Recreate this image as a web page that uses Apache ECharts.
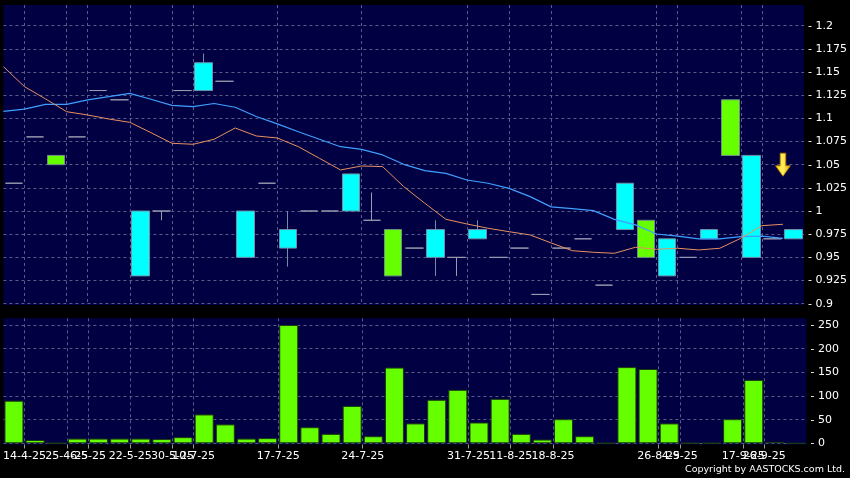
<!DOCTYPE html>
<html>
<head>
<meta charset="utf-8">
<script src="https://cdn.jsdelivr.net/npm/echarts@6/dist/echarts.min.js"></script>
<style>
html,body{margin:0;padding:0;background:#000;}
#c{width:850px;height:478px;}
</style>
</head>
<body>
<div id="c"></div>
<script>
// ---- data ----
const openP  = [1.03,1.08,1.06,1.08,1.13,1.12,0.93,1.00,1.13,1.13,1.14,0.95,1.03,0.96,1.00,1.00,1.00,0.99,0.98,0.96,0.95,0.95,0.97,0.95,0.96,0.91,0.96,0.97,0.92,0.98,0.99,0.93,0.95,0.97,1.12,0.95,0.97,0.97];
const closeP = [1.03,1.08,1.05,1.08,1.13,1.12,1.00,1.00,1.13,1.16,1.14,1.00,1.03,0.98,1.00,1.00,1.04,0.99,0.93,0.96,0.98,0.95,0.98,0.95,0.96,0.91,0.96,0.97,0.92,1.03,0.95,0.97,0.95,0.98,1.06,1.06,0.97,0.98];
const lowP   = [1.03,1.08,1.05,1.08,1.13,1.12,0.93,0.99,1.13,1.13,1.14,0.95,1.03,0.94,1.00,1.00,1.00,0.99,0.93,0.96,0.93,0.93,0.97,0.95,0.96,0.91,0.96,0.97,0.92,0.98,0.95,0.93,0.95,0.97,1.06,0.95,0.97,0.97];
const highP  = [1.03,1.08,1.06,1.08,1.13,1.12,1.00,1.00,1.13,1.17,1.14,1.00,1.03,1.00,1.00,1.00,1.04,1.02,0.98,0.96,0.99,0.95,0.99,0.95,0.96,0.91,0.96,0.97,0.92,1.03,0.99,0.97,0.95,0.98,1.12,1.06,0.97,0.98];
const volume = [90,7,0.5,10,10,10,10,9,13,61,40,10,11,250,34,20,79,15,160,42,92,113,44,94,20,8,51,15,0.5,161,157,42,0.5,0.5,51,134,3,0];
const maBlue = [1.1076,1.110,1.115,1.115,1.120,1.1234,1.127,1.1206,1.114,1.1126,1.116,1.112,1.102,1.094,1.0856,1.0774,1.0694,1.0666,1.0605,1.0504,1.0436,1.0407,1.0335,1.030,1.0245,1.0155,1.0045,1.0026,1.0004,0.991,0.985,0.9752,0.973,0.970,0.970,0.9723,0.9730,0.9705];
const maOrange = [1.1558,1.1342,1.121,1.1072,1.1036,1.0993,1.0957,1.0846,1.0731,1.072,1.0774,1.0896,1.081,1.0788,1.0694,1.0569,1.0443,1.0486,1.0479,1.0263,1.0084,0.9911,0.986,0.9814,0.9777,0.9742,0.9655,0.9572,0.9555,0.9544,0.9609,0.9587,0.9598,0.958,0.9598,0.9706,0.9842,0.9857];
const dateTickPos = [1,3,4,6,8,9,13,17,22,24,26,31,32,35,36];
const dateTickLabels = ['14-4-25','25-4-25','6-5-25','22-5-25','30-5-25','10-7-25','17-7-25','24-7-25','31-7-25','11-8-25','18-8-25','26-8-25','4-9-25','17-9-25','26-9-25'];
const priceTicks = [0.9,0.925,0.95,0.975,1,1.025,1.05,1.075,1.1,1.125,1.15,1.175,1.2];
const volumeTicks = [0,50,100,150,200,250];
const arrowMark = [37, 1.05];

// ---- build chart ----
const n = openP.length;
const cats = openP.map((_, i) => String(i));
const candles = openP.map((o, i) => [o, closeP[i], lowP[i], highP[i]]);
const blueLine = maBlue.map((v, i) => [i, v]);
const orangeLine = maOrange.map((v, i) => [i, v]);

const GRID_LINE = {show: true, lineStyle: {color: '#5a5a88', type: [3, 3], width: 1}};
const FONT = {color: '#ffffff', fontFamily: 'DejaVu Sans', fontSize: 11};
const labelMap = {};
dateTickPos.forEach((p, i) => labelMap[p] = dateTickLabels[i]);
// split date labels into two non-overlapping layers so none get hidden
const layerA = [], layerB = [];
dateTickPos.forEach(p => {
  const lastA = layerA[layerA.length - 1];
  if (lastA === undefined || p - lastA >= 3) layerA.push(p); else layerB.push(p);
});

function dateAxis(values, withLines) {
  return {type: 'value', gridIndex: 1, min: 0, max: n, position: 'bottom',
    axisLine: {show: false},
    axisTick: {show: withLines, length: 4, lineStyle: {color: '#9a9a9a'}, customValues: withLines ? dateTickPos : values},
    axisLabel: Object.assign({customValues: values, margin: 6, hideOverlap: false, showMinLabel: true, showMaxLabel: true,
      formatter: v => labelMap[Math.round(v)] || ''}, FONT),
    splitLine: withLines ? GRID_LINE : {show: false}};
}

const chart = echarts.init(document.getElementById('c'), null, {renderer: 'canvas'});
chart.setOption({
  backgroundColor: '#000000',
  animation: false,
  graphic: [
    {type: 'text', right: 5, top: 465, style: {text: 'Copyright by AASTOCKS.com Ltd.', fill: '#ffffff', font: '9.5px "DejaVu Sans"'}}
  ],
  grid: [
    {left: 3.4, right: 43.4, top: 5, height: 300, show: true, backgroundColor: '#000042', borderWidth: 0},
    {left: 3.4, right: 43.4, top: 318.3, height: 126.2, show: true, backgroundColor: '#000042', borderWidth: 0}
  ],
  xAxis: [
    {type: 'category', gridIndex: 0, data: cats, boundaryGap: true, show: false},
    {type: 'value', gridIndex: 0, min: 0, max: n, position: 'bottom',
      axisLine: {show: false}, axisLabel: {show: false},
      axisTick: {show: false, customValues: dateTickPos},
      splitLine: GRID_LINE},
    {type: 'category', gridIndex: 1, data: cats, boundaryGap: true, show: false},
    dateAxis(layerA, true),
    dateAxis(layerB, false)
  ],
  yAxis: [
    {type: 'value', gridIndex: 0, position: 'right', min: 0.8986, max: 1.2223, scale: true,
      axisLine: {show: false},
      axisTick: {show: false, customValues: priceTicks},
      axisLabel: Object.assign({customValues: priceTicks, margin: 4, hideOverlap: false, formatter: v => '- ' + Number(v.toFixed(3))}, FONT),
      splitLine: GRID_LINE},
    {type: 'value', gridIndex: 1, position: 'right', min: -2.5, max: 264.1,
      axisLine: {show: false},
      axisTick: {show: false, customValues: volumeTicks},
      axisLabel: Object.assign({customValues: volumeTicks, margin: 4, hideOverlap: false, formatter: v => '- ' + Math.round(v)}, FONT),
      splitLine: GRID_LINE}
  ],
  series: [
    {type: 'line', xAxisIndex: 1, yAxisIndex: 0, data: blueLine, symbol: 'none',
      lineStyle: {color: '#3f9fff', width: 1.2}, z: 3,
      markPoint: {
        symbol: 'path://M5,0 L11,0 L11,12 L16,12 L8,22 L0,12 L5,12 Z',
        symbolSize: [15, 23],
        label: {show: false},
        itemStyle: {color: new echarts.graphic.LinearGradient(0, 0, 1, 0, [{offset: 0, color: '#ffd000'}, {offset: 0.5, color: '#fff060'}, {offset: 1, color: '#e0a000'}]), borderColor: '#b07800', borderWidth: 0.8},
        data: [{coord: arrowMark}]
      }},
    {type: 'line', xAxisIndex: 1, yAxisIndex: 0, data: orangeLine, symbol: 'none',
      lineStyle: {color: '#e89060', width: 1}, z: 3},
    {type: 'candlestick', xAxisIndex: 0, yAxisIndex: 0, data: candles, barWidth: 18, z: 2,
      itemStyle: {color: '#00ffff', color0: '#66ff00', borderColor: '#6f8fa8', borderColor0: '#6f8f88', borderColorDoji: '#9a9ab0', borderWidth: 1}},
    {type: 'bar', xAxisIndex: 2, yAxisIndex: 1, data: volume, barWidth: 19,
      itemStyle: {color: '#66ff00', borderColor: '#1a3a10', borderWidth: 1}}
  ]
});
</script>
</body>
</html>
